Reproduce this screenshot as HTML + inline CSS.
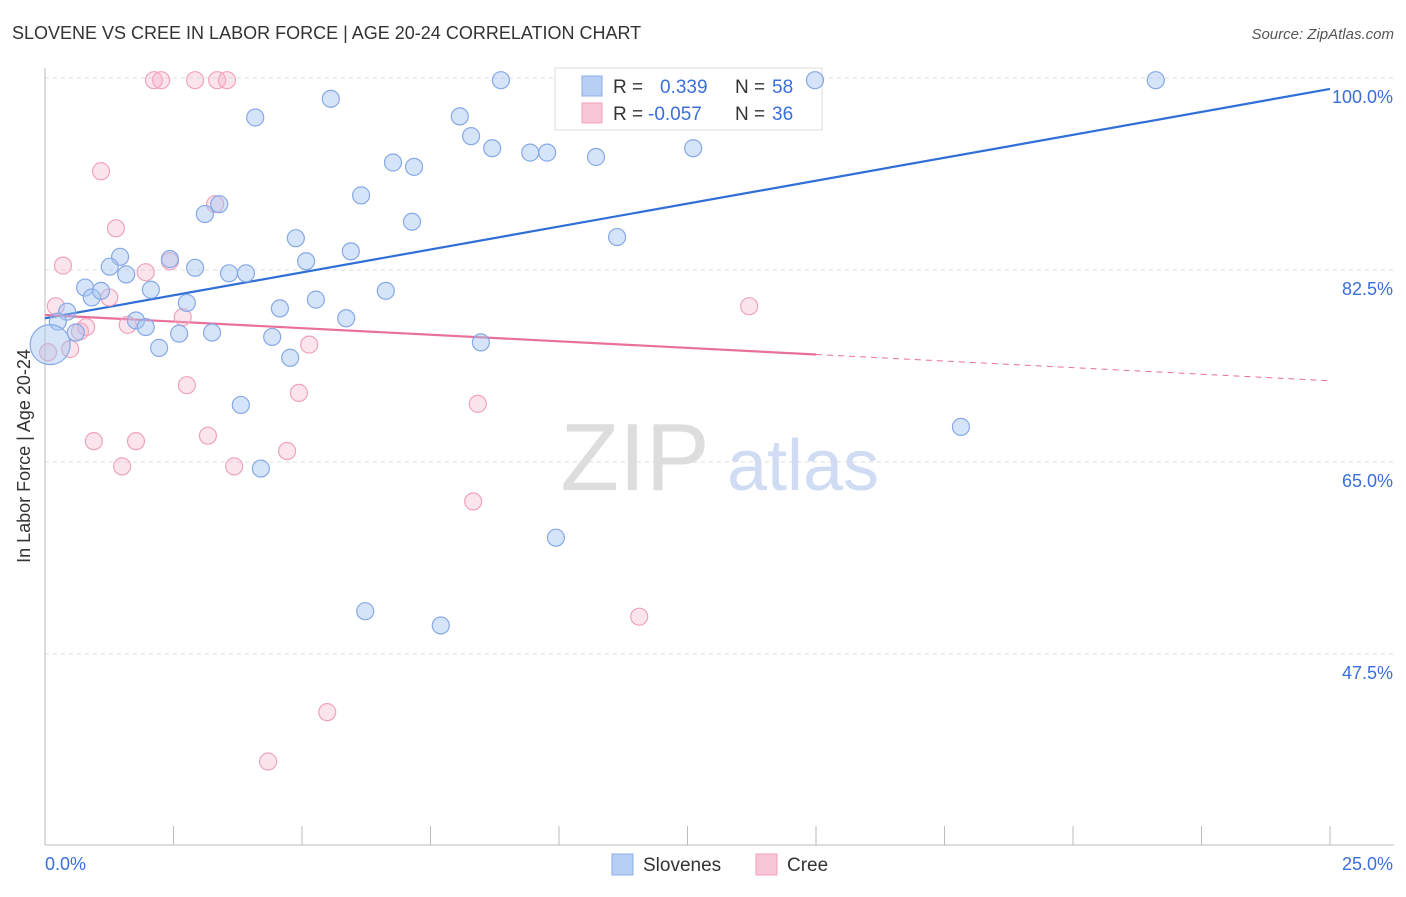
<!DOCTYPE html>
<html><head><meta charset="utf-8"><style>
body{margin:0;background:#fff;font-family:"Liberation Sans",sans-serif;}
svg text{font-family:"Liberation Sans",sans-serif;}
</style></head><body>
<svg id="chart" width="1406" height="892" xmlns="http://www.w3.org/2000/svg">
<text x="12" y="39" font-size="18" fill="#333">SLOVENE VS CREE IN LABOR FORCE | AGE 20-24 CORRELATION CHART</text>
<text x="1394" y="39" font-size="15" fill="#555" text-anchor="end" font-style="italic">Source: ZipAtlas.com</text>
<g>
<text x="635" y="490" font-size="96" fill="#ddd" text-anchor="middle" font-family="Liberation Serif">ZIP</text>
<text x="803" y="490" font-size="72" fill="#cfdcf3" text-anchor="middle">atlas</text>
</g>
<g id="grid"></g><g id="axes"></g><g id="lines"></g>
<text transform="translate(30,456) rotate(-90)" font-size="18" fill="#333" text-anchor="middle">In Labor Force | Age 20-24</text>
<g>
<rect x="555" y="68" width="267" height="62" fill="#fff" stroke="#ddd"/>
<rect x="582" y="76" width="20" height="20" fill="#b8cff5" stroke="#8aaee8"/>
<text x="613" y="93" font-size="19" fill="#333">R =</text><text x="660" y="93" font-size="19" fill="#3a6fd8">0.339</text>
<text x="735" y="93" font-size="19" fill="#333">N =</text><text x="772" y="93" font-size="19" fill="#3a6fd8">58</text>
<rect x="582" y="103" width="20" height="20" fill="#f8c6d6" stroke="#f0a0bc"/>
<text x="613" y="120" font-size="19" fill="#333">R =</text><text x="648" y="120" font-size="19" fill="#3a6fd8">-0.057</text>
<text x="735" y="120" font-size="19" fill="#333">N =</text><text x="772" y="120" font-size="19" fill="#3a6fd8">36</text>
</g>
<g id="pts"></g>
<g>
<rect x="612" y="854" width="21" height="21" fill="#b8cff5" stroke="#8aaee8"/>
<text x="643" y="871" font-size="19" fill="#333">Slovenes</text>
<rect x="756" y="854" width="21" height="21" fill="#f8c6d6" stroke="#f0a0bc"/>
<text x="787" y="871" font-size="19" fill="#333">Cree</text>
</g>
</svg>
<script>
const blueX=[8.87,14.98,21.61,5.56,4.09,8.07,8.29,8.70,9.44,9.77,10.72,12.61,6.77,7.18,6.15,3.11,3.39,7.14,4.88,11.13,5.95,5.08,1.46,2.43,1.26,2.92,3.58,3.91,1.58,0.78,2.06,0.91,1.09,6.63,2.76,4.57,5.27,0.43,0.25,1.77,1.96,5.86,0.60,2.61,3.25,4.42,2.22,8.48,4.77,0.10,3.81,17.82,4.20,9.94,6.23,7.70];
const blueY=[99.8,99.8,99.8,98.1,96.4,96.5,94.7,93.6,93.2,93.2,92.8,93.6,92.3,91.9,89.3,87.6,88.5,86.9,85.4,85.5,84.2,83.3,83.7,83.5,82.8,82.7,82.2,82.2,82.1,80.9,80.7,80.0,80.6,80.6,79.5,79.0,79.8,78.7,77.8,77.9,77.3,78.1,76.8,76.7,76.8,76.4,75.4,75.9,74.5,75.7,70.2,68.2,64.4,58.1,51.4,50.1];
const pinkX=[2.12,2.26,2.92,3.35,3.54,1.09,1.38,0.35,1.96,2.43,3.31,0.21,1.25,2.68,0.80,1.61,0.68,0.49,0.06,5.14,13.70,2.76,4.94,8.42,0.95,1.77,3.17,1.50,3.68,4.71,8.33,11.56,5.49,4.34];
const pinkY=[99.8,99.8,99.8,99.8,99.8,91.5,86.3,82.9,82.3,83.3,88.5,79.2,80.0,78.2,77.3,77.5,76.9,75.3,75.0,75.7,79.2,72.0,71.3,70.3,66.9,66.9,67.4,64.6,64.6,66.0,61.4,50.9,42.2,37.7];
const trendBlue=[78.1,99.0];
const trendPink=[78.4,72.4];
const yTicks=[100,82.5,65,47.5];
const yTickLabels=["100.0%","82.5%","65.0%","47.5%"];
const xTicks=[0,2.5,5,7.5,10,12.5,15,17.5,20,22.5,25];
const NS="http://www.w3.org/2000/svg";
const sx=v=>45+v*51.4, sy=v=>78+(100-v)*192/17.5;
function mk(parent,tag,attrs){const e=document.createElementNS(NS,tag);for(const k in attrs)e.setAttribute(k,attrs[k]);document.getElementById(parent).appendChild(e);return e;}
yTicks.forEach((t,i)=>{
 const l=mk('grid','line',{x1:45,x2:1394,y1:sy(t),y2:sy(t),stroke:'#ddd','stroke-dasharray':'4,4'});
 
 
 const tx=mk('grid','text',{x:1393,y:sy(t)+25,'font-size':18,fill:'#3a6fd8','text-anchor':'end'});
 tx.textContent=yTickLabels[i];
 
 
});
const ax=mk('axes','line',{x1:45,x2:1394,y1:845,y2:845,stroke:'#bbb'});


const ay=mk('axes','line',{x1:45,x2:45,y1:68,y2:845,stroke:'#bbb'});


xTicks.forEach(t=>{const l=mk('axes','line',{x1:sx(t),x2:sx(t),y1:826,y2:845,stroke:'#bbb'});
 
 });
const xl0=mk('axes','text',{x:45,y:870,'font-size':18,fill:'#3a6fd8'});xl0.textContent='0.0%';


const xl1=mk('axes','text',{x:1393,y:870,'font-size':18,fill:'#3a6fd8','text-anchor':'end'});xl1.textContent='25.0%';


function dot(x,y,f,s,name,r){const c=mk('pts','circle',{cx:sx(x),cy:sy(y),r:r,fill:f,stroke:s,'stroke-width':1.2});
 
 }
pinkX.forEach((x,i)=>dot(x,pinkY[i],'rgba(246,178,200,0.35)','#efa3bd','cree-point',8.5));
blueX.forEach((x,i)=>dot(x,blueY[i],'rgba(165,195,242,0.45)','#86a9e6','slovene-point',i===49?20:8.5));
const bl=mk('lines','line',{x1:sx(0),y1:sy(trendBlue[0]),x2:sx(25),y2:sy(trendBlue[1]),stroke:'#2f6fd6','stroke-width':2.2});


const pm=trendPink[0]+(trendPink[1]-trendPink[0])*15/25;
const pl=mk('lines','line',{x1:sx(0),y1:sy(trendPink[0]),x2:sx(15),y2:sy(pm),stroke:'#e8709a','stroke-width':2.2});


const pd=mk('lines','line',{x1:sx(15),y1:sy(pm),x2:sx(25),y2:sy(trendPink[1]),stroke:'#e8709a','stroke-width':1,'stroke-dasharray':'6,5'});


</script>
</body></html>
